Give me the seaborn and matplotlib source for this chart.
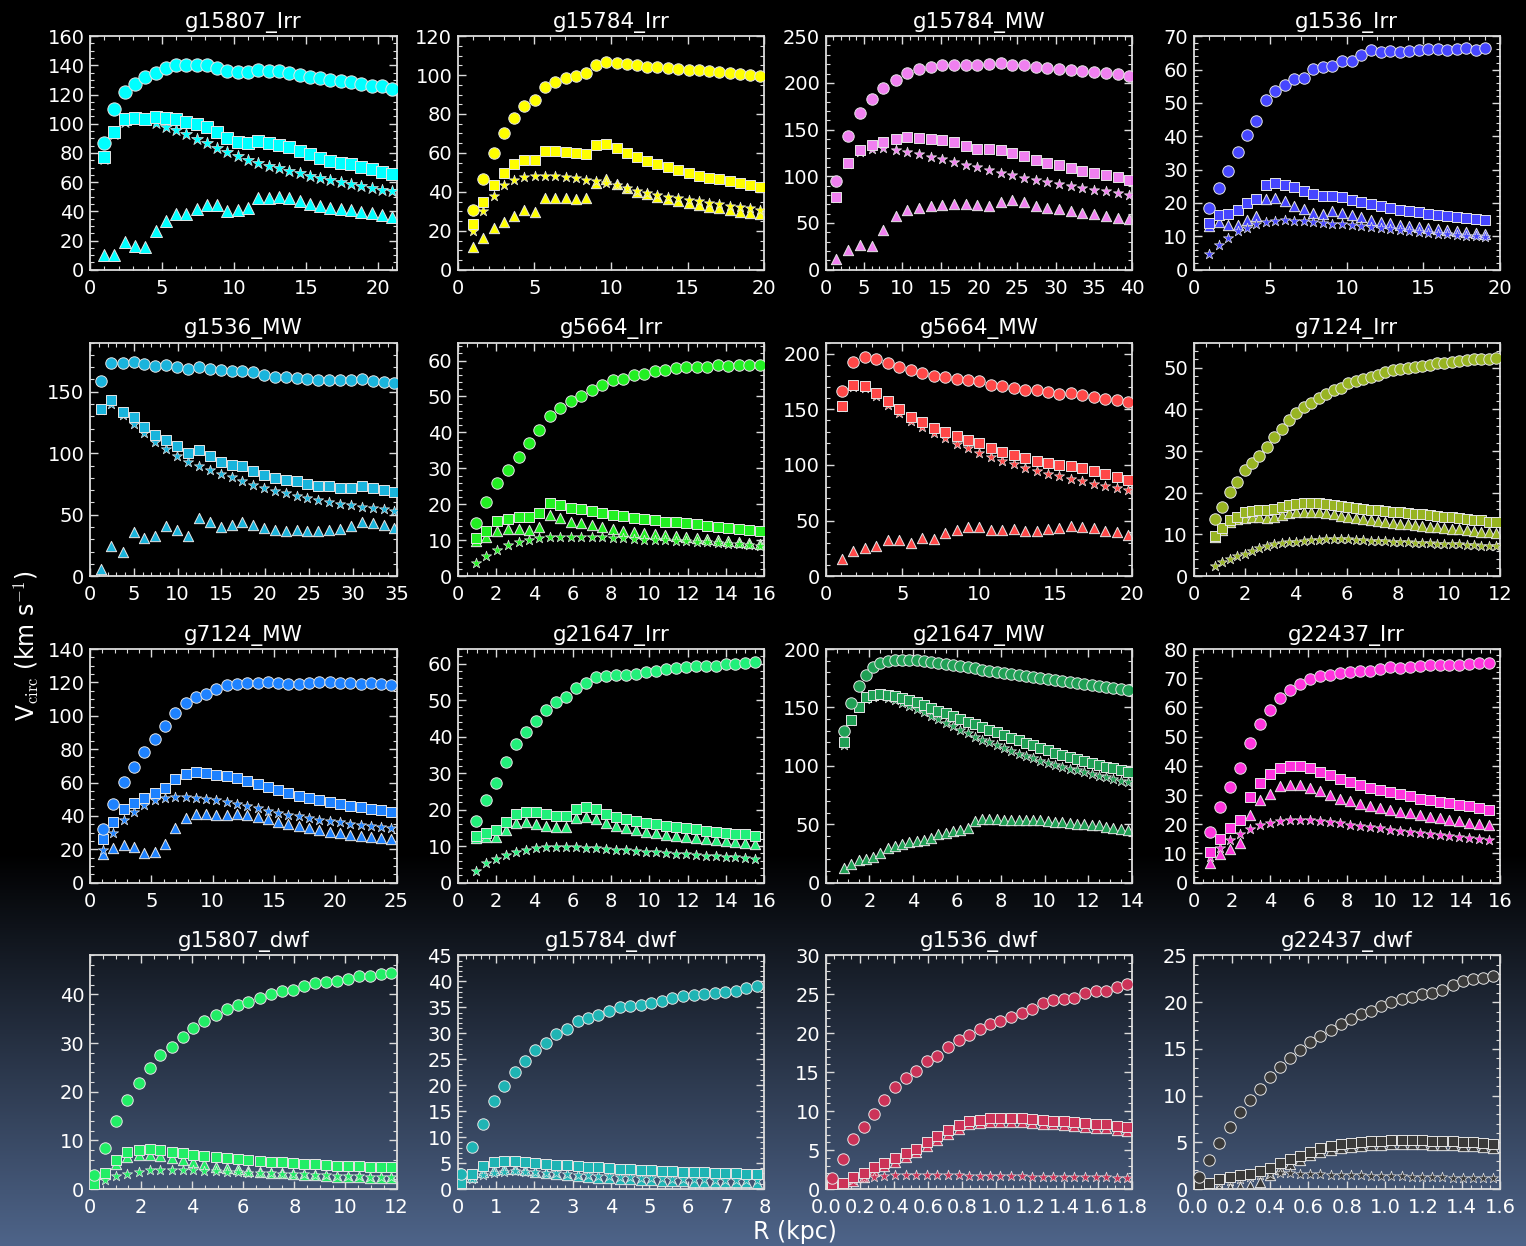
import numpy as np
import matplotlib
matplotlib.use("Agg")
import matplotlib.pyplot as plt
from matplotlib.ticker import MultipleLocator, AutoMinorLocator, FormatStrFormatter
import seaborn as sns

#rotation curves, one panel per galaxy. circ / sq / tri / star are the four marker series

#g15807_Irr
r_g15807_irr = [0.97, 1.69, 2.40, 3.12, 3.83, 4.55, 5.26, 5.98, 6.69, 7.41, 8.12, 8.84, 9.55, 10.27, 10.98, 11.70, 12.41, 13.13, 13.84, 14.56, 15.27, 15.99, 16.70, 17.42, 18.13, 18.85, 19.56, 20.28, 20.99]
circ_g15807_irr = [87, 110, 122, 127, 132, 135, 138, 140, 140, 140, 140, 138.5, 136, 135.5, 135.5, 137, 136, 136, 135, 133.5, 132, 131.5, 130, 129, 128.5, 127, 126, 125.5, 124]
sq_g15807_irr = [77, 94, 103, 103.7, 103.5, 104.4, 104.2, 103.5, 101, 99.9, 97.6, 94.2, 90.3, 87.8, 86.5, 88, 86.7, 85.6, 84.2, 81.3, 79.4, 76.7, 74.4, 73.3, 72.2, 70.4, 69.2, 67.2, 65.8]
tri_g15807_irr = [10, 10, 19, 16.3, 15.4, 26.3, 33.4, 37.9, 37.9, 41.8, 44.3, 44.3, 40.4, 40.9, 42, 48.8, 48.8, 49.7, 49, 47, 45.2, 43.6, 42.2, 41.8, 40.6, 39.5, 38.6, 37.7, 36.3]
star_g15807_irr = [76, 93, 101, 103, 102.5, 100.3, 98, 96, 92.8, 89.6, 86.7, 83.7, 80.6, 78, 75.4, 73, 71.3, 69.7, 67.9, 66.3, 64.5, 62.9, 61.5, 60.1, 58.8, 57.2, 56.1, 54.9, 53.6]

#g15784_Irr
r_g15784_irr = [0.98, 1.66, 2.33, 3.00, 3.66, 4.33, 5.01, 5.68, 6.36, 7.03, 7.69, 8.36, 9.02, 9.69, 10.37, 11.02, 11.70, 12.37, 13.02, 13.70, 14.38, 15.05, 15.73, 16.38, 17.06, 17.73, 18.41, 19.08, 19.74]
circ_g15784_irr = [30.7, 46.6, 59.9, 70.1, 78, 84, 87.2, 93.7, 96.6, 98.3, 99.5, 100.9, 105, 106.8, 106.1, 105.5, 105, 104.3, 103.9, 103.4, 103.1, 102.7, 102.4, 102, 101.5, 101.2, 100.5, 99.8, 99.5]
sq_g15784_irr = [23.4, 34.6, 43.7, 49.8, 54.4, 56.3, 56.5, 61.1, 61.1, 60.6, 59.9, 59.7, 64, 64.8, 62.5, 60.1, 58, 56, 54.4, 52.6, 51, 49.5, 48.3, 47.3, 46.4, 45.6, 44.5, 43.7, 42.7]
tri_g15784_irr = [11.6, 16.2, 21.3, 24.4, 27.8, 30.5, 29.9, 37, 37, 37, 36.3, 36.7, 44.4, 46.6, 44.2, 42, 40.1, 38.9, 37.4, 36.3, 35.2, 34.1, 33.3, 32.4, 31.6, 30.7, 29.9, 29.2, 28.5]
star_g15784_irr = [20.1, 30.2, 38, 43.5, 46.1, 47.4, 48, 48.3, 48.3, 47.8, 47.3, 46.2, 45.4, 44.5, 43.5, 42, 40.4, 39.2, 38.4, 37.5, 36.7, 35.8, 35.2, 34.3, 33.6, 32.9, 32.3, 31.6, 30.9]

#g15784_MW
r_g15784_mw = [1.39, 2.92, 4.49, 6.01, 7.54, 9.11, 10.63, 12.16, 13.68, 15.21, 16.73, 18.26, 19.78, 21.31, 22.83, 24.36, 25.88, 27.41, 28.93, 30.46, 31.98, 33.51, 35.03, 36.56, 38.08, 39.61]
circ_g15784_mw = [94.8, 143.2, 168, 182.6, 194.3, 202.8, 210.3, 215.3, 217, 218.8, 219.2, 219.5, 219.5, 220.6, 221, 219.5, 218.8, 216.7, 216, 215.3, 214.2, 212.8, 212.1, 210.7, 209.2, 207.1]
sq_g15784_mw = [78.2, 114, 128.2, 133.2, 136.4, 140.3, 142.1, 141.4, 140, 138.5, 136.4, 132.9, 129.7, 129.3, 128.2, 125, 121.5, 117.2, 114.7, 111.9, 108.7, 105.9, 103.7, 101.6, 98.8, 95.9]
tri_g15784_mw = [11.4, 21.3, 26.6, 25.6, 42.3, 57.5, 64.3, 66.4, 68.2, 69.3, 70, 70, 69.3, 67.9, 72.8, 75, 72.5, 68.2, 66.4, 64.7, 63.2, 61.1, 59.3, 57.5, 55.8, 54]
star_g15784_mw = [77, 113, 126, 129.7, 130.7, 127.9, 126.1, 124, 121.1, 118.3, 115.5, 112.6, 109.4, 106.6, 103.7, 101.2, 98.4, 96.3, 94.1, 92, 89.9, 87.7, 85.6, 83.8, 82.1, 80.3]

#g1536_Irr
r_g1536_irr = [1.03, 1.68, 2.28, 2.89, 3.49, 4.09, 4.74, 5.34, 5.95, 6.55, 7.20, 7.80, 8.45, 9.05, 9.70, 10.34, 10.95, 11.59, 12.20, 12.84, 13.45, 14.05, 14.70, 15.30, 15.95, 16.55, 17.20, 17.80, 18.40, 19.05]
circ_g1536_irr = [18.4, 24.4, 29.7, 35.3, 40.3, 44.5, 50.8, 53.5, 55.3, 57.1, 57.5, 60.1, 60.8, 61, 62.6, 62.5, 64.4, 65.7, 65.1, 65.4, 65.1, 65.4, 65.7, 66.2, 66.2, 65.8, 66.1, 66.4, 65.8, 66.5]
sq_g1536_irr = [14.1, 16.3, 16.8, 18, 20, 21.3, 25.5, 26, 25.5, 24.8, 23.7, 22.7, 22, 22.1, 21.7, 20.9, 20.3, 19.7, 19.1, 18.4, 18, 17.6, 17.3, 16.8, 16.5, 16.2, 15.9, 15.6, 15.3, 15]
tri_g1536_irr = [13.1, 14.3, 13.3, 13.3, 14.8, 16.1, 21.1, 21.4, 20.5, 19.1, 18.1, 17.1, 16.7, 17.5, 17.1, 16.4, 15.7, 15, 14.4, 13.9, 13.5, 13.1, 12.7, 12.4, 12.1, 11.8, 11.5, 11.2, 11, 10.7]
star_g1536_irr = [4.7, 7.4, 9.5, 11.5, 12.5, 13.6, 14.3, 14.7, 14.9, 14.7, 14.5, 14.3, 14, 13.8, 13.6, 13.3, 13, 12.7, 12.4, 12.1, 11.8, 11.6, 11.3, 11.1, 10.8, 10.6, 10.4, 10.2, 10, 9.8]

#g1536_MW
r_g1536_mw = [1.23, 2.45, 3.72, 4.98, 6.21, 7.47, 8.70, 9.92, 11.19, 12.41, 13.68, 14.90, 16.17, 17.39, 18.62, 19.88, 21.11, 22.34, 23.60, 24.83, 26.05, 27.32, 28.54, 29.81, 31.03, 32.26, 33.52, 34.75]
circ_g1536_mw = [158.4, 173, 173, 174.3, 172.7, 170.8, 171.6, 170.5, 168.4, 170.3, 168.9, 167.3, 166.5, 167, 165.7, 163.8, 162.2, 161.9, 161.1, 160.5, 159.7, 159.5, 159.5, 159.5, 160, 158.9, 157.6, 156.8]
sq_g1536_mw = [136.2, 143.2, 133.2, 129.5, 121.1, 114.6, 111.1, 105.7, 100.3, 102.7, 97.8, 92.7, 90.8, 89.5, 85.7, 82.4, 80, 78.4, 77, 75.1, 73.5, 73, 71.6, 71.9, 73, 71.9, 70, 68.1]
tri_g1536_mw = [5.9, 24.3, 20, 35.7, 31.4, 32.4, 40.5, 37.8, 32.4, 47, 43.8, 39.7, 41.6, 43.8, 41.6, 39.2, 37.8, 36.8, 37.3, 36.5, 36.5, 37.8, 38.1, 40.8, 43.8, 43, 41.6, 38.9]
star_g1536_mw = [135, 139.7, 131, 124, 116.8, 109.5, 103.8, 97.8, 93.2, 89.7, 86.5, 83.2, 80.3, 77.3, 74.3, 71.9, 69.5, 67.3, 65.4, 63.5, 61.6, 60, 58.6, 57.6, 56.5, 55.4, 54.6, 53.2]

#g5664_Irr
r_g5664_irr = [0.94, 1.48, 2.03, 2.61, 3.17, 3.70, 4.26, 4.80, 5.34, 5.89, 6.45, 6.99, 7.54, 8.09, 8.64, 9.18, 9.74, 10.28, 10.83, 11.37, 11.93, 12.47, 13.03, 13.57, 14.12, 14.66, 15.22, 15.76]
circ_g5664_irr = [14.8, 20.5, 26, 29.5, 33.2, 37, 40.6, 44.5, 46.7, 48.8, 50.2, 51.9, 53.1, 54.5, 54.8, 56, 56.2, 57, 57.4, 57.9, 58.1, 58.1, 58.1, 58.7, 58.6, 58.7, 58.9, 58.8]
sq_g5664_irr = [10.5, 12.7, 15.3, 15.9, 16.4, 16.4, 17.5, 20.3, 19.8, 19, 18.7, 18.1, 17.5, 17.1, 16.7, 16.3, 15.9, 15.6, 15.2, 15, 14.7, 14.4, 14, 13.8, 13.5, 13.2, 12.9, 12.6]
tri_g5664_irr = [9.9, 11, 12.7, 13.1, 13.1, 12.9, 13.6, 17, 16.2, 15.1, 14.7, 14.2, 13.7, 13.1, 12.7, 12.4, 11.9, 11.6, 11.4, 11.1, 10.8, 10.5, 10.3, 10.1, 9.8, 9.6, 9.3, 9]
star_g5664_irr = [3.6, 5.7, 7.4, 8.7, 9.6, 10.2, 10.5, 10.8, 10.9, 11, 11, 10.9, 10.8, 10.7, 10.5, 10.4, 10.2, 10.2, 10, 9.9, 9.7, 9.5, 9.4, 9.2, 9, 8.9, 8.7, 8.5]

#g5664_MW
r_g5664_mw = [1.05, 1.81, 2.55, 3.31, 4.05, 4.81, 5.56, 6.30, 7.04, 7.80, 8.54, 9.28, 10.02, 10.78, 11.52, 12.27, 13.01, 13.77, 14.51, 15.25, 15.99, 16.73, 17.49, 18.24, 18.98, 19.72]
circ_g5664_mw = [166.8, 192.2, 196.7, 195.2, 191.6, 187.7, 185, 182.3, 179.6, 178.7, 177.2, 176, 175.1, 172.2, 171.3, 169.5, 167.7, 167.4, 165.9, 164.1, 164.4, 162.9, 161.4, 159.6, 158.7, 156.9]
sq_g5664_mw = [153.3, 171.9, 171.3, 164.7, 157.5, 150.3, 142.8, 138.9, 133.5, 129.9, 126.3, 122.8, 119.8, 115.3, 112, 109.3, 106, 103.6, 101.8, 100, 99.4, 97.3, 94.9, 91.6, 89.5, 86.8]
tri_g5664_mw = [15.6, 22.5, 25.4, 27.5, 32.3, 32.3, 29.6, 34.1, 33.8, 38.9, 41.3, 44, 44.6, 41.6, 41.9, 42.2, 40.7, 41, 42.2, 43.1, 44.9, 44.3, 43.1, 40.7, 39.5, 37.1]
star_g5664_mw = [152, 170, 168.9, 161.7, 153.9, 146.4, 139.2, 133.8, 128.7, 124, 118.9, 115, 110.8, 107.5, 103.9, 100.6, 97.6, 94.6, 92.2, 89.8, 87.4, 85.3, 83.2, 81.1, 79.6, 77.8]

#g7124_Irr
r_g7124_irr = [0.83, 1.13, 1.42, 1.70, 2.00, 2.29, 2.58, 2.87, 3.16, 3.45, 3.74, 4.03, 4.32, 4.61, 4.91, 5.19, 5.48, 5.77, 6.06, 6.35, 6.64, 6.94, 7.22, 7.51, 7.79, 8.09, 8.38, 8.66, 8.96, 9.25, 9.53, 9.82, 10.12, 10.40, 10.69, 10.99, 11.27, 11.56, 11.84]
circ_g7124_irr = [13.7, 16.7, 20.2, 22.6, 25.4, 27.1, 28.8, 31, 33.3, 35.4, 37.5, 39.2, 40.6, 41.6, 42.8, 43.6, 44.6, 45.1, 46.2, 46.7, 47.3, 47.7, 48.3, 49, 49.4, 49.7, 49.9, 50.1, 50.3, 50.7, 51, 51, 51.3, 51.6, 51.9, 52.1, 52.1, 52.1, 52.2]
sq_g7124_irr = [9.7, 11.5, 13.5, 14.3, 15.3, 15.7, 15.8, 15.9, 16.2, 16.7, 17.1, 17.4, 17.5, 17.5, 17.5, 17.3, 17.1, 16.9, 16.6, 16.4, 16.2, 15.9, 15.8, 15.6, 15.4, 15.3, 15.1, 15, 14.8, 14.6, 14.4, 14.3, 14.1, 13.9, 13.7, 13.5, 13.4, 13.1, 12.9]
tri_g7124_irr = [9.5, 11, 12.9, 13.7, 13.9, 14.1, 14.1, 13.9, 14.3, 14.7, 15.1, 15.4, 15.4, 15.4, 15.3, 15.1, 14.8, 14.5, 14.2, 13.9, 13.7, 13.5, 13.2, 13, 12.8, 12.6, 12.4, 12.3, 12, 11.9, 11.7, 11.5, 11.4, 11.2, 11.1, 10.9, 10.7, 10.6, 10.4]
star_g7124_irr = [2.5, 3.3, 4.1, 4.8, 5.3, 6.1, 6.7, 7.2, 7.6, 7.9, 8.1, 8.3, 8.4, 8.6, 8.7, 8.8, 8.8, 8.8, 8.8, 8.7, 8.6, 8.5, 8.4, 8.4, 8.3, 8.2, 8.1, 8, 8, 7.9, 7.8, 7.7, 7.6, 7.6, 7.5, 7.4, 7.3, 7.2, 7.2]

#g7124_MW
r_g7124_mw = [1.07, 1.91, 2.75, 3.59, 4.43, 5.27, 6.11, 6.95, 7.79, 8.63, 9.47, 10.31, 11.15, 11.98, 12.82, 13.66, 14.50, 15.34, 16.18, 17.02, 17.86, 18.70, 19.54, 20.38, 21.22, 22.06, 22.90, 23.74, 24.54]
circ_g7124_mw = [32, 47, 60.2, 69.2, 78.2, 86.2, 93.6, 101.6, 107.6, 111.4, 113.2, 115.8, 118.2, 119, 119.4, 119.6, 120, 119.6, 119.2, 119.2, 119.8, 120, 120, 119.8, 119.4, 119.2, 119.4, 119, 118.2]
sq_g7124_mw = [26, 36.6, 44, 47.6, 50.6, 53.6, 56.6, 62, 65.2, 66.2, 65.6, 64.2, 63.6, 62.6, 61.2, 59.2, 57.2, 55.6, 53.6, 52, 50.6, 49.4, 48.2, 47.4, 46.2, 45.2, 44.4, 43.6, 42.6]
tri_g7124_mw = [17, 20.6, 22.6, 21.2, 18, 18.4, 23.4, 33, 38.6, 41.2, 41.2, 40.6, 40.4, 41, 40.6, 39.4, 38.2, 36.6, 35.2, 34, 32.8, 31.6, 30.6, 29.6, 28.8, 28, 27.2, 26.6, 26.2]
star_g7124_mw = [19.6, 29.6, 37.6, 42.6, 46.6, 49.6, 51, 51.6, 51.6, 51, 50.2, 49.6, 48.6, 47.2, 46, 44.6, 43.2, 42, 40.8, 39.8, 38.8, 37.8, 37, 36.2, 35.4, 34.8, 34, 33.4, 32.6]

#g21647_Irr
r_g21647_irr = [0.97, 1.49, 2.01, 2.53, 3.05, 3.57, 4.09, 4.61, 5.13, 5.65, 6.17, 6.69, 7.21, 7.73, 8.25, 8.77, 9.29, 9.81, 10.33, 10.85, 11.37, 11.89, 12.41, 12.93, 13.45, 13.97, 14.49, 15.01, 15.53]
circ_g21647_irr = [17, 22.6, 27.4, 33.1, 37.9, 41.3, 44.3, 47.4, 49.5, 50.9, 53.4, 54.8, 56.3, 56.5, 56.8, 56.9, 57.2, 57.7, 58, 58.5, 58.7, 59.1, 59.4, 59.4, 59.4, 59.8, 60, 60.3, 60.5]
sq_g21647_irr = [12.9, 13.7, 14.3, 16.7, 18.7, 19.3, 19.3, 18.7, 18.2, 18.2, 20.3, 20.6, 20.1, 18.9, 18.1, 17.4, 16.9, 16.4, 16, 15.6, 15.2, 14.9, 14.6, 14.2, 14, 13.7, 13.4, 13.2, 12.9]
tri_g21647_irr = [12.3, 12.4, 12.5, 14.4, 16.2, 16.5, 16.1, 15.6, 15.3, 15.2, 17.8, 18.1, 17.4, 16.2, 15.5, 14.9, 14.4, 14, 13.5, 13.1, 12.8, 12.4, 12.1, 11.9, 11.6, 11.3, 11, 10.9, 10.6]
star_g21647_irr = [3.3, 5.3, 6.5, 7.6, 8.4, 9, 9.5, 9.7, 9.8, 9.8, 9.7, 9.6, 9.4, 9.2, 9, 8.9, 8.7, 8.5, 8.3, 8.1, 7.9, 7.8, 7.6, 7.4, 7.2, 7, 6.9, 6.8, 6.6]

#g21647_MW
r_g21647_mw = [0.83, 1.16, 1.50, 1.83, 2.16, 2.49, 2.83, 3.16, 3.49, 3.82, 4.16, 4.49, 4.82, 5.15, 5.49, 5.82, 6.15, 6.48, 6.82, 7.15, 7.48, 7.81, 8.15, 8.48, 8.81, 9.14, 9.48, 9.81, 10.14, 10.47, 10.81, 11.14, 11.47, 11.80, 12.14, 12.47, 12.80, 13.13, 13.47, 13.80]
circ_g21647_mw = [130, 153.4, 168.6, 177.7, 184.3, 187.7, 189.4, 190.3, 190.9, 190.9, 190.6, 189.7, 189.1, 188.3, 187.1, 186, 185.1, 184.3, 183.4, 182.3, 181.4, 180.6, 179.7, 178.6, 177.7, 176.9, 176, 175.1, 174, 173.1, 172.3, 171.4, 170.6, 169.7, 168.9, 168, 167.1, 166.3, 165.4, 164.6]
sq_g21647_mw = [120, 139.1, 150.6, 158.6, 160.9, 161.4, 160.9, 159.7, 158, 156.3, 154.3, 152, 149.7, 147.1, 144.9, 142.3, 140, 137.7, 135.4, 133.1, 130.9, 128.6, 126.3, 124, 121.7, 119.4, 117.4, 115.4, 113.4, 111.4, 109.4, 107.7, 106, 104.3, 102.6, 100.9, 99.4, 98, 96.6, 95.1]
tri_g21647_mw = [12.3, 16.3, 19.1, 20.6, 22, 25.4, 29.4, 31.7, 32.9, 34.6, 35.7, 36.6, 38, 41.4, 42.9, 44, 44.9, 46.6, 52.9, 54.6, 54.6, 54.3, 54, 54, 54, 54, 53.7, 53.4, 52.9, 52.3, 51.7, 51.1, 50.6, 50, 49.4, 48.9, 48, 47.1, 46.3, 44.9]
star_g21647_mw = [118, 138, 150, 157, 159, 159.5, 158.5, 156.5, 154, 151.5, 149, 146, 143, 140, 137, 134, 131, 128, 125, 122.5, 120, 117.5, 115, 112.5, 110.5, 108.5, 106.5, 104.5, 102.5, 100.5, 99, 97.5, 96, 94.5, 93, 91.5, 90, 88.7, 87.3, 86]

#g22437_Irr
r_g22437_irr = [0.88, 1.40, 1.92, 2.44, 2.96, 3.48, 4.00, 4.52, 5.04, 5.56, 6.08, 6.60, 7.12, 7.64, 8.16, 8.68, 9.20, 9.72, 10.24, 10.76, 11.28, 11.80, 12.32, 12.84, 13.36, 13.88, 14.40, 14.92, 15.44]
circ_g22437_irr = [17.3, 26, 32.9, 39.2, 47.7, 54.4, 59.1, 63.3, 66.1, 68.1, 69.7, 70.8, 71.2, 71.8, 72.3, 72.6, 72.6, 73.1, 73.7, 73.5, 74, 74.3, 74.6, 74.4, 74.6, 74.6, 74.8, 75.1, 75.2]
sq_g22437_irr = [10.5, 15.1, 18.8, 21.6, 29.4, 34.2, 37.2, 39.1, 39.9, 39.9, 39.1, 37.9, 36.7, 35.5, 34.4, 33.4, 32.5, 31.7, 30.9, 30.2, 29.5, 28.8, 28.2, 27.7, 27.1, 26.5, 26.1, 25.5, 24.9]
tri_g22437_irr = [6.8, 9.7, 11.6, 13.6, 23.3, 28.2, 30.5, 33, 33.6, 33.6, 32.5, 31.3, 29.9, 28.7, 27.9, 27, 26.3, 25.6, 24.9, 24.3, 23.7, 23.1, 22.6, 22, 21.5, 21.1, 20.5, 20, 19.6]
star_g22437_irr = [8.8, 12, 14.5, 16.5, 18.2, 19.6, 20.4, 21, 21.3, 21.4, 21.3, 21.1, 20.7, 20.3, 19.8, 19.4, 18.9, 18.6, 18.1, 17.8, 17.4, 17, 16.7, 16.4, 16.1, 15.7, 15.4, 15, 14.7]

#g15807_dwf
r_g15807_dwf = [0.16, 0.58, 1.03, 1.46, 1.90, 2.33, 2.75, 3.20, 3.62, 4.05, 4.48, 4.92, 5.35, 5.78, 6.20, 6.65, 7.08, 7.50, 7.93, 8.37, 8.80, 9.22, 9.65, 10.08, 10.52, 10.95, 11.38, 11.80]
circ_g15807_dwf = [2.9, 8.5, 13.9, 18.2, 21.8, 24.8, 27.6, 29.2, 31.3, 33, 34.5, 35.7, 36.9, 37.9, 38.5, 39.3, 40.1, 40.7, 41, 41.8, 42.3, 42.5, 42.8, 43.2, 43.7, 43.8, 44.2, 44.4]
sq_g15807_dwf = [1, 3.3, 6, 7.7, 8.1, 8.2, 8.1, 7.7, 7.4, 7.1, 6.8, 6.6, 6.3, 6.1, 5.9, 5.7, 5.6, 5.5, 5.3, 5.2, 5.1, 5, 4.8, 4.8, 4.7, 4.6, 4.6, 4.5]
tri_g15807_dwf = [0.8, 3, 5.2, 6.6, 7, 7, 6.7, 6.3, 5.9, 5.5, 5.1, 4.6, 4.4, 4.1, 3.8, 3.6, 3.4, 3.2, 3.1, 2.9, 2.8, 2.7, 2.5, 2.5, 2.4, 2.3, 2.3, 2.2]
star_g15807_dwf = [1, 1.8, 2.6, 3.1, 3.6, 3.9, 4, 4, 4, 3.9, 3.8, 3.7, 3.6, 3.5, 3.4, 3.3, 3.2, 3.1, 3.1, 3, 2.9, 2.8, 2.7, 2.7, 2.6, 2.5, 2.5, 2.4]

#g15784_dwf
r_g15784_dwf = [0.09, 0.37, 0.65, 0.93, 1.20, 1.48, 1.75, 2.02, 2.30, 2.57, 2.85, 3.13, 3.40, 3.67, 3.95, 4.23, 4.50, 4.77, 5.05, 5.33, 5.60, 5.87, 6.15, 6.42, 6.70, 6.98, 7.25, 7.52, 7.80]
circ_g15784_dwf = [2.9, 8.1, 12.6, 16.9, 19.9, 22.6, 24.7, 26.7, 28.2, 29.9, 30.8, 32.4, 32.9, 33.5, 34.3, 35, 35.3, 35.5, 35.9, 36.3, 36.8, 37.2, 37.4, 37.6, 37.7, 38, 38.1, 38.7, 39.1]
sq_g15784_dwf = [1.2, 2.9, 4.4, 5.3, 5.5, 5.5, 5.3, 5.1, 4.9, 4.7, 4.6, 4.4, 4.3, 4.2, 4, 3.9, 3.8, 3.7, 3.6, 3.5, 3.4, 3.3, 3.3, 3.2, 3.1, 3.1, 3, 2.9, 2.9]
tri_g15784_dwf = [0.9, 2.3, 3.2, 3.6, 3.8, 3.8, 3.6, 3.3, 3.1, 2.9, 2.7, 2.5, 2.3, 2.2, 2.1, 1.9, 1.9, 1.7, 1.7, 1.6, 1.5, 1.5, 1.4, 1.4, 1.3, 1.3, 1.3, 1.3, 1.2]
star_g15784_dwf = [1, 2, 2.7, 3.1, 3.3, 3.4, 3.3, 3.2, 3.1, 3, 2.9, 2.8, 2.7, 2.6, 2.5, 2.4, 2.3, 2.2, 2.2, 2.1, 2, 2, 1.9, 1.9, 1.8, 1.8, 1.7, 1.7, 1.7]

#g1536_dwf
r_g1536_dwf = [0.037, 0.099, 0.161, 0.223, 0.282, 0.345, 0.407, 0.469, 0.531, 0.593, 0.655, 0.718, 0.780, 0.842, 0.904, 0.966, 1.025, 1.087, 1.150, 1.212, 1.274, 1.336, 1.398, 1.460, 1.523, 1.585, 1.647, 1.709, 1.771]
circ_g1536_dwf = [1.4, 3.8, 6.4, 8, 9.7, 11.4, 13.1, 14.3, 15.2, 16.4, 17.1, 18.2, 19.1, 19.8, 20.5, 21.2, 21.6, 22.1, 22.6, 23.1, 23.9, 24.3, 24.4, 24.6, 25.2, 25.5, 25.5, 26, 26.3]
sq_g1536_dwf = [0.6, 0.8, 1.5, 2, 2.8, 3.4, 4, 4.6, 5.2, 6, 6.8, 7.6, 8.2, 8.8, 8.9, 9.1, 9.1, 9.1, 9.1, 9, 8.9, 8.8, 8.7, 8.6, 8.5, 8.4, 8.3, 8.1, 8]
tri_g1536_dwf = [0.3, 0.5, 1, 1.5, 2.3, 2.9, 3.5, 4.1, 4.7, 5.5, 6.3, 7.1, 7.7, 8.3, 8.5, 8.6, 8.6, 8.6, 8.6, 8.5, 8.4, 8.3, 8.2, 8.1, 8, 7.9, 7.8, 7.6, 7.5]
star_g1536_dwf = [0.4, 0.7, 1.1, 1.4, 1.6, 1.7, 1.8, 1.8, 1.8, 1.8, 1.8, 1.8, 1.8, 1.7, 1.7, 1.7, 1.7, 1.7, 1.7, 1.6, 1.6, 1.6, 1.6, 1.5, 1.5, 1.5, 1.5, 1.4, 1.4]

#g22437_dwf
r_g22437_dwf = [0.028, 0.080, 0.133, 0.188, 0.241, 0.293, 0.346, 0.399, 0.451, 0.504, 0.557, 0.609, 0.662, 0.715, 0.770, 0.823, 0.875, 0.928, 0.981, 1.033, 1.086, 1.139, 1.191, 1.244, 1.297, 1.352, 1.405, 1.457, 1.510, 1.562]
circ_g22437_dwf = [1.3, 3.1, 4.9, 6.6, 8.2, 9.5, 10.7, 12, 13.1, 14, 14.9, 15.7, 16.4, 17, 17.7, 18.2, 18.7, 19.1, 19.6, 20, 20.3, 20.6, 20.9, 21, 21.3, 21.8, 22.3, 22.5, 22.6, 22.8]
sq_g22437_dwf = [0.5, 0.7, 1.1, 1.3, 1.5, 1.6, 1.9, 2.3, 2.8, 3.2, 3.5, 4, 4.4, 4.6, 4.8, 4.9, 5, 5.1, 5.1, 5.2, 5.2, 5.2, 5.2, 5.1, 5.1, 5.1, 5, 5, 4.9, 4.8]
tri_g22437_dwf = [0.1, 0.1, 0.1, 0.1, 0.2, 0.3, 0.8, 1.5, 2.2, 2.7, 3.1, 3.6, 4, 4.2, 4.4, 4.5, 4.6, 4.7, 4.7, 4.8, 4.8, 4.8, 4.8, 4.7, 4.7, 4.7, 4.6, 4.6, 4.5, 4.4]
star_g22437_dwf = [0.3, 0.5, 0.7, 0.9, 1.1, 1.3, 1.5, 1.6, 1.7, 1.7, 1.6, 1.6, 1.6, 1.5, 1.5, 1.5, 1.5, 1.4, 1.4, 1.4, 1.4, 1.3, 1.3, 1.3, 1.3, 1.2, 1.2, 1.2, 1.2, 1.2]

#panel titles in grid order
titles = ["g15807_Irr", "g15784_Irr", "g15784_MW", "g1536_Irr",
          "g1536_MW", "g5664_Irr", "g5664_MW", "g7124_Irr",
          "g7124_MW", "g21647_Irr", "g21647_MW", "g22437_Irr",
          "g15807_dwf", "g15784_dwf", "g1536_dwf", "g22437_dwf"]

radii = [r_g15807_irr, r_g15784_irr, r_g15784_mw, r_g1536_irr,
         r_g1536_mw, r_g5664_irr, r_g5664_mw, r_g7124_irr,
         r_g7124_mw, r_g21647_irr, r_g21647_mw, r_g22437_irr,
         r_g15807_dwf, r_g15784_dwf, r_g1536_dwf, r_g22437_dwf]
circs = [circ_g15807_irr, circ_g15784_irr, circ_g15784_mw, circ_g1536_irr,
         circ_g1536_mw, circ_g5664_irr, circ_g5664_mw, circ_g7124_irr,
         circ_g7124_mw, circ_g21647_irr, circ_g21647_mw, circ_g22437_irr,
         circ_g15807_dwf, circ_g15784_dwf, circ_g1536_dwf, circ_g22437_dwf]
sqs = [sq_g15807_irr, sq_g15784_irr, sq_g15784_mw, sq_g1536_irr,
       sq_g1536_mw, sq_g5664_irr, sq_g5664_mw, sq_g7124_irr,
       sq_g7124_mw, sq_g21647_irr, sq_g21647_mw, sq_g22437_irr,
       sq_g15807_dwf, sq_g15784_dwf, sq_g1536_dwf, sq_g22437_dwf]
tris = [tri_g15807_irr, tri_g15784_irr, tri_g15784_mw, tri_g1536_irr,
        tri_g1536_mw, tri_g5664_irr, tri_g5664_mw, tri_g7124_irr,
        tri_g7124_mw, tri_g21647_irr, tri_g21647_mw, tri_g22437_irr,
        tri_g15807_dwf, tri_g15784_dwf, tri_g1536_dwf, tri_g22437_dwf]
stars = [star_g15807_irr, star_g15784_irr, star_g15784_mw, star_g1536_irr,
         star_g1536_mw, star_g5664_irr, star_g5664_mw, star_g7124_irr,
         star_g7124_mw, star_g21647_irr, star_g21647_mw, star_g22437_irr,
         star_g15807_dwf, star_g15784_dwf, star_g1536_dwf, star_g22437_dwf]

#styling per panel: colour, axis limits and tick steps
colors = ["#00ffff", "#ffff00", "#f080f0", "#4646ff",
          "#1ab4dc", "#22f022", "#ff4848", "#98b422",
          "#1e82ff", "#22f07a", "#20a055", "#ff33dd",
          "#22ee66", "#1fb4b4", "#cc3358", "#3a3a3a"]
xmax = [21.3, 20, 40, 20, 35, 16, 20, 12, 25, 16, 14, 16, 12, 8, 1.8, 1.6]
ymax = [160, 120, 250, 70, 190, 65, 210, 56, 140, 64, 200, 80, 48, 45, 30, 25]
xstep = [5, 5, 5, 5, 5, 2, 5, 2, 5, 2, 2, 2, 2, 1, 0.2, 0.2]
ystep = [20, 20, 50, 10, 50, 10, 50, 10, 20, 10, 50, 10, 10, 5, 5, 5]

sns.set_theme(style="ticks", rc={
    "axes.facecolor": "black",
    "figure.facecolor": "black",
    "axes.edgecolor": "#dcdcdc",
    "axes.linewidth": 1.3,
    "text.color": "white",
    "axes.labelcolor": "white",
    "xtick.color": "#dcdcdc",
    "ytick.color": "#dcdcdc",
    "xtick.labelcolor": "white",
    "ytick.labelcolor": "white",
    "xtick.direction": "in",
    "ytick.direction": "in",
    "xtick.top": True,
    "ytick.right": True,
    "xtick.major.size": 6,
    "ytick.major.size": 6,
    "xtick.minor.size": 3,
    "ytick.minor.size": 3,
    "xtick.major.width": 1.0,
    "ytick.major.width": 1.0,
    "xtick.minor.width": 0.8,
    "ytick.minor.width": 0.8,
    "xtick.major.pad": 6.5,
    "ytick.major.pad": 4,
    "xtick.labelsize": 14,
    "ytick.labelsize": 14,
    "mathtext.fontset": "cm",
})
plt.rcParams["font.family"] = ["DejaVu Sans"]

fig = plt.figure(figsize=(15.26, 12.46), dpi=100)

#background: black on top, fading to slate blue at the bottom
bg = fig.add_axes([0, 0, 1, 1], zorder=-10)
frac = np.linspace(0, 1, 600)
t = np.clip((frac - 0.685) / 0.315, 0, 1)
top = np.array([0, 0, 0]) / 255
bottom = np.array([78, 100, 137]) / 255
grad = top[None, :] + t[:, None] * (bottom - top)[None, :]
bg.imshow(grad[:, None, :], aspect="auto", extent=[0, 1, 0, 1])
bg.axis("off")

axes = fig.subplots(4, 4)
fig.subplots_adjust(left=0.059, right=0.983, bottom=0.0457, top=0.971, wspace=0.2, hspace=0.312)

edge = "#e4e4e4"
for i, ax in enumerate(axes.flat):
    c = colors[i]
    k = 1.35 if i == 0 else 1.0
    r = radii[i]
    if i >= 12:
        ax.set_facecolor("none")
    sns.scatterplot(x=r, y=tris[i], ax=ax, marker="^", s=55 * k, color=c, edgecolor=edge, linewidth=0.7, zorder=2)
    sns.scatterplot(x=r, y=stars[i], ax=ax, marker="*", s=60 * k, color=c, edgecolor=edge, linewidth=0.5, zorder=3)
    sns.scatterplot(x=r, y=sqs[i], ax=ax, marker="s", s=55 * k, color=c, edgecolor=edge, linewidth=0.7, zorder=4)
    sns.scatterplot(x=r, y=circs[i], ax=ax, marker="o", s=68 * k, color=c, edgecolor=edge, linewidth=0.7, zorder=5)

    ax.set_xlim(0, xmax[i])
    ax.set_ylim(0, ymax[i])
    ax.xaxis.set_major_locator(MultipleLocator(xstep[i]))
    ax.yaxis.set_major_locator(MultipleLocator(ystep[i]))
    ax.xaxis.set_minor_locator(AutoMinorLocator())
    ax.yaxis.set_minor_locator(AutoMinorLocator())
    if xstep[i] < 1:
        ax.xaxis.set_major_formatter(FormatStrFormatter("%.1f"))
    ax.tick_params(which="both", top=True, right=True)
    ax.set_title(titles[i], fontsize=15.5, color="white", pad=6)
    ax.set_xlabel("")
    ax.set_ylabel("")
    for s in ax.spines.values():
        s.set_visible(True)

fig.text(0.017, 0.482, r"V$_{\rm circ}$ (km s$^{-1}$)", rotation=90, ha="center", va="center", fontsize=17, color="white")
fig.text(0.521, 0.011, "R (kpc)", ha="center", va="center", fontsize=17, color="white")

plt.savefig("out.png", dpi=100)
plt.close()
